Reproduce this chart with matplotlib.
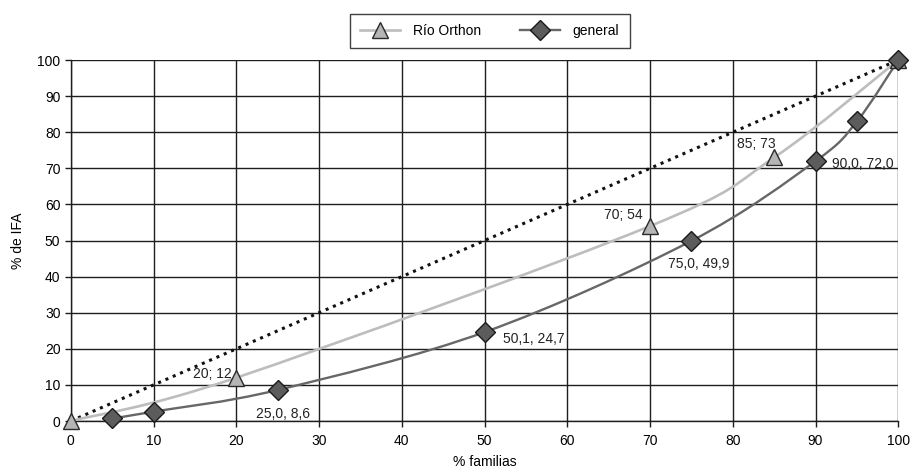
import matplotlib
matplotlib.use("Agg")
import matplotlib.pyplot as plt
from matplotlib.path import Path
from matplotlib.patches import PathPatch
from matplotlib.lines import Line2D
import numpy as np

plt.rcParams['font.family'] = ['Liberation Sans', 'DejaVu Sans']

# Río Orthon points
orthon_x = [0, 20, 70, 85, 100]
orthon_y = [0, 12, 54, 73, 100]
orthon_labels = ["", "20; 12", "70; 54", "85; 73", ""]

# general points
general_x = [5, 10, 25.0, 50.1, 75.0, 90.0, 95, 100]
general_y = [0.7, 2.6, 8.6, 24.7, 49.9, 72.0, 83, 100]
general_labels = ["", "", "25,0, 8,6", "50,1, 24,7", "75,0, 49,9", "90,0, 72,0", "", ""]

# equality line
equal_x = [0, 100]
equal_y = [0, 100]

ticks = list(range(0, 101, 10))

# label offsets in points (dx, dy, ha)
orthon_off = {1: (-3, 3, 'right'), 2: (-5, 8, 'right'), 3: (1, 10, 'right')}
general_off = {2: (4, -17, 'center'), 3: (13, -5, 'left'), 4: (-17, -17, 'left'), 5: (12, -2, 'left')}

c_light = '#bdbdbd'
c_dark = '#676767'


def smooth_path(xs, ys):
    # excel-like smoothed line, cubic bezier through the points
    p = np.column_stack([xs, ys]).astype(float)
    verts = [p[0]]
    codes = [Path.MOVETO]
    n = len(p)
    for i in range(n - 1):
        p0 = p[i - 1] if i > 0 else p[i]
        p3 = p[i + 2] if i + 2 < n else p[i + 1]
        c1 = p[i] + (p[i + 1] - p0) / 6
        c2 = p[i + 1] - (p3 - p[i]) / 6
        verts += [c1, c2, p[i + 1]]
        codes += [Path.CURVE4] * 3
    return Path(verts, codes)


fig = plt.figure(figsize=(9.14, 4.73), dpi=100)
ax = fig.add_axes([0.0775, 0.1099, 0.9053, 0.7632])

ax.set_xlim(0, 100)
ax.set_ylim(0, 100)
ax.set_xticks(ticks)
ax.set_yticks(ticks)
ax.grid(True, color='#1e1e1e', lw=1.0, zorder=0)
ax.set_axisbelow(True)
for s in ['top', 'right']:
    ax.spines[s].set_visible(False)
for s in ['left', 'bottom']:
    ax.spines[s].set_color('#1e1e1e')
    ax.spines[s].set_linewidth(1.0)
ax.tick_params(length=4.5, width=1.0, color='#1e1e1e', labelsize=10)
ax.tick_params(axis='x', pad=5)
ax.tick_params(axis='y', pad=3)

ax.plot(equal_x, equal_y, color='#111111', lw=2.2, linestyle=(0, (1, 1.6)), zorder=2)

ax.add_patch(PathPatch(smooth_path(orthon_x, orthon_y), fc='none', ec=c_light, lw=1.9, zorder=3))
ax.add_patch(PathPatch(smooth_path(general_x, general_y), fc='none', ec=c_dark, lw=1.7, zorder=3))

ax.plot(orthon_x, orthon_y, linestyle='none', marker='^', ms=11, mfc='#b5b5b5', mec='#2a2a2a', mew=1.0,
        zorder=4, clip_on=False)
ax.plot(general_x, general_y, linestyle='none', marker='D', ms=10, mfc='#5c5c5c', mec='#1a1a1a', mew=1.0,
        zorder=5, clip_on=False)

for i, (dx, dy, ha) in orthon_off.items():
    ax.annotate(orthon_labels[i], (orthon_x[i], orthon_y[i]), xytext=(dx, dy), textcoords='offset points',
                ha=ha, va='center', fontsize=10, color='#222222', zorder=6)
for i, (dx, dy, ha) in general_off.items():
    ax.annotate(general_labels[i], (general_x[i], general_y[i]), xytext=(dx, dy), textcoords='offset points',
                ha=ha, va='center', fontsize=10, color='#222222', zorder=6)

ax.set_xlabel("% familias", fontsize=10, labelpad=5)
ax.set_ylabel("% de IFA", fontsize=10, labelpad=9)

h1 = Line2D([], [], color=c_light, lw=1.9, marker='^', ms=11, mfc='#b5b5b5', mec='#2a2a2a')
h2 = Line2D([], [], color=c_dark, lw=1.7, marker='D', ms=10, mfc='#5c5c5c', mec='#1a1a1a')
leg = fig.legend([h1, h2], ["Río Orthon", "general"], ncol=2, loc='center',
                 bbox_to_anchor=(0.5356, 0.9345), fontsize=10, frameon=True, fancybox=False,
                 edgecolor='#111111', handlelength=2.9, handletextpad=0.9, columnspacing=2.8,
                 borderpad=0.75, borderaxespad=0)
leg.get_frame().set_linewidth(1.0)

fig.savefig("out.png", dpi=100)
